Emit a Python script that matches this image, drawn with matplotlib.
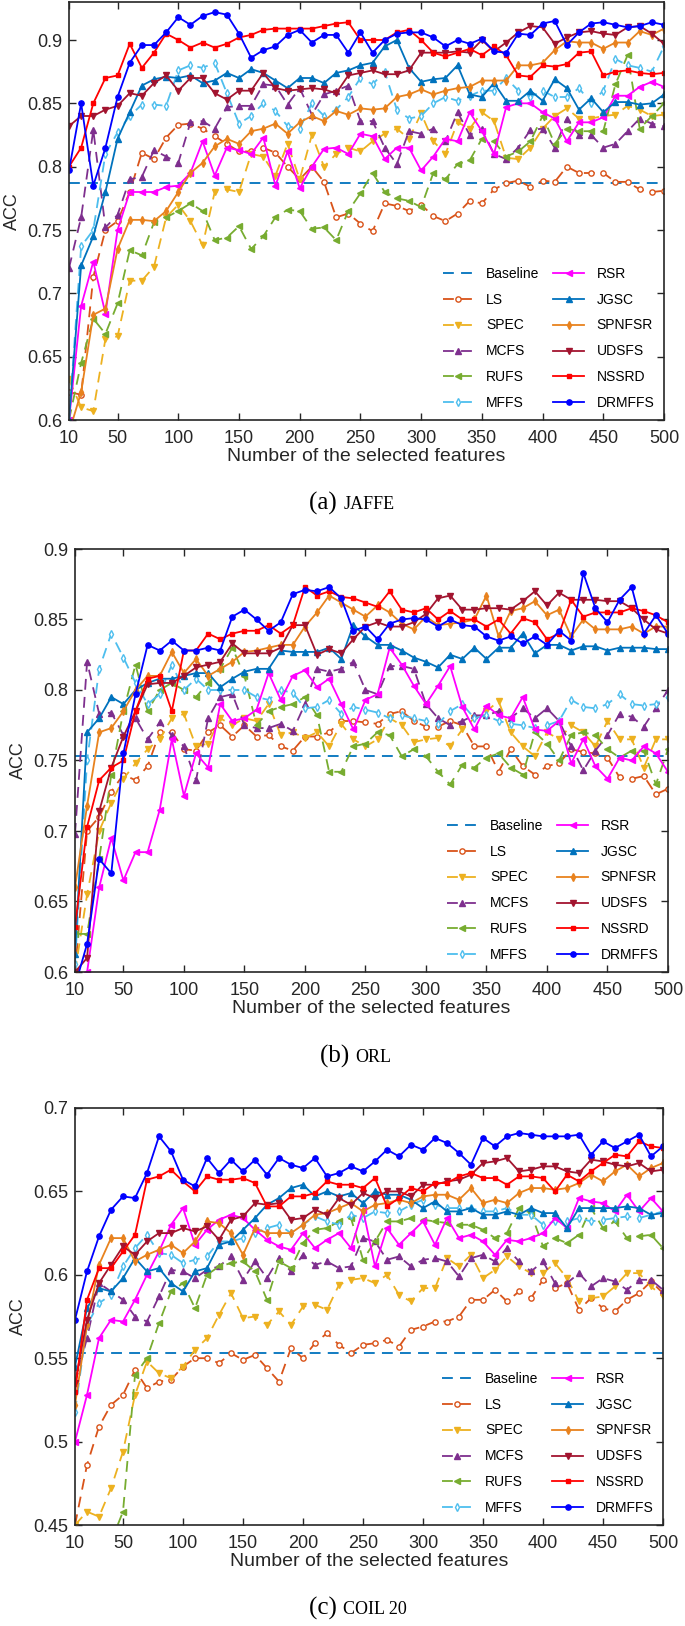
import matplotlib
matplotlib.use('Agg')
import matplotlib.pyplot as plt
from matplotlib.ticker import FuncFormatter
from matplotlib.offsetbox import TextArea, HPacker, AnnotationBbox

x = list(range(10, 510, 10))

# ---- (a) JAFFE ----
jaffe_baseline = 0.787
jaffe_ls = [0.622, 0.62, 0.713, 0.75, 0.757, 0.78, 0.811, 0.806, 0.823, 0.833, 0.834, 0.83, 0.824, 0.818, 0.812, 0.812, 0.815, 0.811, 0.8, 0.79, 0.8, 0.788, 0.76, 0.763, 0.755, 0.749, 0.771, 0.769, 0.765, 0.77, 0.761, 0.757, 0.763, 0.773, 0.771, 0.782, 0.787, 0.789, 0.784, 0.789, 0.788, 0.8, 0.795, 0.795, 0.795, 0.788, 0.788, 0.782, 0.78, 0.781]
jaffe_spec = [0.632, 0.61, 0.607, 0.664, 0.666, 0.71, 0.71, 0.721, 0.76, 0.77, 0.757, 0.738, 0.78, 0.782, 0.78, 0.81, 0.808, 0.793, 0.818, 0.79, 0.825, 0.8, 0.81, 0.815, 0.812, 0.82, 0.826, 0.83, 0.822, 0.842, 0.82, 0.81, 0.835, 0.83, 0.843, 0.836, 0.807, 0.806, 0.815, 0.83, 0.84, 0.846, 0.838, 0.838, 0.84, 0.841, 0.848, 0.845, 0.84, 0.841]
jaffe_mcfs = [0.72, 0.76, 0.829, 0.752, 0.762, 0.79, 0.792, 0.813, 0.808, 0.803, 0.835, 0.836, 0.83, 0.847, 0.848, 0.848, 0.865, 0.864, 0.849, 0.862, 0.841, 0.857, 0.86, 0.864, 0.836, 0.836, 0.815, 0.802, 0.828, 0.826, 0.83, 0.82, 0.843, 0.825, 0.83, 0.81, 0.806, 0.815, 0.829, 0.83, 0.815, 0.838, 0.825, 0.825, 0.815, 0.818, 0.828, 0.838, 0.834, 0.832]
jaffe_rufs = [0.6, 0.645, 0.68, 0.668, 0.692, 0.734, 0.73, 0.756, 0.76, 0.765, 0.771, 0.765, 0.742, 0.744, 0.753, 0.735, 0.745, 0.76, 0.766, 0.765, 0.751, 0.752, 0.742, 0.765, 0.779, 0.795, 0.78, 0.775, 0.773, 0.768, 0.795, 0.79, 0.802, 0.805, 0.822, 0.82, 0.808, 0.812, 0.82, 0.84, 0.818, 0.83, 0.828, 0.828, 0.828, 0.865, 0.888, 0.83, 0.84, 0.85]
jaffe_mffs = [0.6, 0.737, 0.75, 0.81, 0.827, 0.84, 0.849, 0.849, 0.848, 0.876, 0.88, 0.878, 0.882, 0.858, 0.834, 0.84, 0.85, 0.844, 0.832, 0.83, 0.85, 0.84, 0.845, 0.855, 0.87, 0.865, 0.875, 0.845, 0.838, 0.84, 0.85, 0.855, 0.852, 0.856, 0.86, 0.86, 0.87, 0.86, 0.855, 0.86, 0.855, 0.855, 0.862, 0.85, 0.86, 0.885, 0.88, 0.878, 0.875, 0.895]
jaffe_rsr = [0.6, 0.69, 0.725, 0.684, 0.75, 0.78, 0.78, 0.78, 0.784, 0.785, 0.795, 0.82, 0.793, 0.815, 0.813, 0.81, 0.823, 0.785, 0.812, 0.783, 0.8, 0.814, 0.815, 0.81, 0.826, 0.824, 0.806, 0.815, 0.815, 0.797, 0.808, 0.822, 0.82, 0.843, 0.828, 0.81, 0.847, 0.85, 0.85, 0.843, 0.838, 0.82, 0.835, 0.835, 0.839, 0.856, 0.856, 0.863, 0.867, 0.863]
jaffe_jgsc = [0.6, 0.722, 0.745, 0.78, 0.822, 0.843, 0.864, 0.869, 0.871, 0.87, 0.872, 0.866, 0.868, 0.874, 0.87, 0.877, 0.874, 0.868, 0.862, 0.87, 0.87, 0.866, 0.874, 0.876, 0.88, 0.882, 0.895, 0.9, 0.878, 0.867, 0.869, 0.87, 0.88, 0.857, 0.855, 0.866, 0.852, 0.852, 0.86, 0.852, 0.869, 0.862, 0.845, 0.854, 0.843, 0.851, 0.851, 0.849, 0.85, 0.857]
jaffe_spnfsr = [0.59, 0.622, 0.683, 0.688, 0.735, 0.758, 0.758, 0.757, 0.765, 0.78, 0.795, 0.803, 0.816, 0.822, 0.818, 0.828, 0.83, 0.834, 0.826, 0.835, 0.84, 0.836, 0.844, 0.841, 0.846, 0.845, 0.846, 0.855, 0.857, 0.861, 0.857, 0.86, 0.862, 0.863, 0.868, 0.868, 0.868, 0.88, 0.88, 0.882, 0.892, 0.899, 0.898, 0.898, 0.893, 0.898, 0.898, 0.907, 0.904, 0.909]
jaffe_udsfs = [0.832, 0.84, 0.84, 0.845, 0.848, 0.858, 0.856, 0.866, 0.872, 0.86, 0.87, 0.87, 0.858, 0.853, 0.86, 0.86, 0.874, 0.862, 0.86, 0.861, 0.862, 0.861, 0.858, 0.872, 0.874, 0.876, 0.873, 0.873, 0.876, 0.89, 0.89, 0.89, 0.891, 0.89, 0.9, 0.891, 0.898, 0.906, 0.911, 0.91, 0.897, 0.902, 0.906, 0.907, 0.905, 0.904, 0.91, 0.911, 0.905, 0.897]
jaffe_nssrd = [0.8, 0.815, 0.85, 0.87, 0.872, 0.897, 0.878, 0.89, 0.905, 0.9, 0.894, 0.898, 0.894, 0.897, 0.902, 0.904, 0.908, 0.909, 0.909, 0.909, 0.909, 0.911, 0.913, 0.914, 0.9, 0.9, 0.9, 0.906, 0.908, 0.9, 0.89, 0.887, 0.89, 0.893, 0.888, 0.895, 0.888, 0.872, 0.871, 0.88, 0.879, 0.881, 0.89, 0.891, 0.872, 0.875, 0.876, 0.874, 0.873, 0.874]
jaffe_drmffs = [0.797, 0.85, 0.785, 0.815, 0.855, 0.882, 0.896, 0.896, 0.906, 0.918, 0.912, 0.919, 0.922, 0.92, 0.905, 0.886, 0.892, 0.895, 0.904, 0.908, 0.898, 0.904, 0.904, 0.89, 0.906, 0.89, 0.9, 0.905, 0.906, 0.906, 0.902, 0.895, 0.9, 0.897, 0.901, 0.891, 0.89, 0.905, 0.904, 0.913, 0.915, 0.896, 0.906, 0.913, 0.914, 0.912, 0.91, 0.911, 0.914, 0.912]

# ---- (b) ORL ----
orl_baseline = 0.753
orl_ls = [0.6, 0.7, 0.71, 0.728, 0.74, 0.736, 0.746, 0.77, 0.77, 0.758, 0.757, 0.77, 0.775, 0.767, 0.775, 0.767, 0.768, 0.76, 0.757, 0.767, 0.767, 0.77, 0.778, 0.778, 0.777, 0.776, 0.783, 0.785, 0.778, 0.774, 0.774, 0.778, 0.775, 0.76, 0.76, 0.742, 0.758, 0.746, 0.74, 0.746, 0.748, 0.758, 0.756, 0.755, 0.752, 0.738, 0.737, 0.739, 0.726, 0.73]
orl_spec = [0.6, 0.655, 0.7, 0.72, 0.737, 0.748, 0.758, 0.765, 0.78, 0.783, 0.76, 0.762, 0.78, 0.775, 0.78, 0.778, 0.79, 0.768, 0.77, 0.766, 0.77, 0.76, 0.776, 0.765, 0.76, 0.765, 0.78, 0.775, 0.763, 0.765, 0.766, 0.76, 0.772, 0.78, 0.785, 0.792, 0.77, 0.76, 0.753, 0.77, 0.765, 0.775, 0.77, 0.76, 0.778, 0.765, 0.765, 0.745, 0.765, 0.765]
orl_mcfs = [0.698, 0.82, 0.783, 0.784, 0.768, 0.78, 0.765, 0.777, 0.768, 0.76, 0.736, 0.78, 0.795, 0.797, 0.775, 0.773, 0.773, 0.776, 0.771, 0.79, 0.815, 0.813, 0.815, 0.82, 0.8, 0.797, 0.817, 0.817, 0.815, 0.79, 0.78, 0.775, 0.778, 0.782, 0.782, 0.785, 0.78, 0.787, 0.78, 0.787, 0.778, 0.76, 0.743, 0.757, 0.768, 0.783, 0.781, 0.774, 0.787, 0.8]
orl_rufs = [0.627, 0.627, 0.68, 0.74, 0.785, 0.818, 0.785, 0.8, 0.805, 0.8, 0.795, 0.805, 0.815, 0.83, 0.81, 0.775, 0.785, 0.788, 0.79, 0.795, 0.782, 0.742, 0.742, 0.76, 0.762, 0.77, 0.768, 0.753, 0.758, 0.753, 0.742, 0.733, 0.747, 0.745, 0.752, 0.755, 0.745, 0.74, 0.77, 0.762, 0.75, 0.768, 0.77, 0.768, 0.758, 0.752, 0.757, 0.757, 0.733, 0.758]
orl_mffs = [0.606, 0.75, 0.815, 0.84, 0.823, 0.805, 0.79, 0.797, 0.818, 0.8, 0.808, 0.8, 0.8, 0.8, 0.8, 0.795, 0.793, 0.8, 0.798, 0.787, 0.788, 0.793, 0.783, 0.788, 0.786, 0.784, 0.78, 0.782, 0.78, 0.778, 0.776, 0.785, 0.79, 0.78, 0.782, 0.778, 0.776, 0.775, 0.773, 0.775, 0.778, 0.793, 0.788, 0.787, 0.79, 0.797, 0.79, 0.789, 0.79, 0.795]
orl_rsr = [0.58, 0.6, 0.66, 0.695, 0.665, 0.685, 0.685, 0.715, 0.765, 0.725, 0.755, 0.745, 0.79, 0.778, 0.78, 0.786, 0.812, 0.793, 0.81, 0.814, 0.802, 0.808, 0.79, 0.772, 0.793, 0.797, 0.83, 0.818, 0.803, 0.79, 0.803, 0.817, 0.788, 0.772, 0.789, 0.782, 0.78, 0.795, 0.772, 0.771, 0.778, 0.748, 0.765, 0.746, 0.737, 0.752, 0.75, 0.76, 0.755, 0.742]
orl_jgsc = [0.613, 0.77, 0.78, 0.795, 0.79, 0.8, 0.805, 0.808, 0.808, 0.81, 0.812, 0.812, 0.802, 0.808, 0.813, 0.815, 0.815, 0.828, 0.827, 0.827, 0.827, 0.83, 0.822, 0.846, 0.838, 0.832, 0.832, 0.828, 0.823, 0.82, 0.816, 0.825, 0.822, 0.83, 0.822, 0.83, 0.83, 0.84, 0.826, 0.832, 0.832, 0.828, 0.831, 0.831, 0.828, 0.83, 0.83, 0.83, 0.829, 0.829]
orl_spnfsr = [0.66, 0.718, 0.77, 0.773, 0.785, 0.8, 0.81, 0.81, 0.827, 0.812, 0.822, 0.81, 0.815, 0.82, 0.827, 0.828, 0.83, 0.832, 0.832, 0.845, 0.855, 0.867, 0.862, 0.857, 0.852, 0.86, 0.855, 0.847, 0.843, 0.852, 0.846, 0.847, 0.848, 0.85, 0.867, 0.838, 0.856, 0.858, 0.863, 0.853, 0.857, 0.838, 0.85, 0.843, 0.843, 0.843, 0.845, 0.84, 0.845, 0.845]
orl_udsfs = [0.6, 0.61, 0.714, 0.745, 0.767, 0.785, 0.804, 0.805, 0.805, 0.81, 0.816, 0.818, 0.82, 0.833, 0.826, 0.826, 0.826, 0.83, 0.846, 0.846, 0.825, 0.829, 0.826, 0.836, 0.845, 0.848, 0.845, 0.845, 0.848, 0.854, 0.865, 0.867, 0.857, 0.857, 0.858, 0.858, 0.857, 0.863, 0.87, 0.86, 0.869, 0.864, 0.864, 0.864, 0.863, 0.863, 0.858, 0.85, 0.843, 0.84]
orl_nssrd = [0.632, 0.703, 0.736, 0.745, 0.75, 0.785, 0.808, 0.81, 0.785, 0.828, 0.828, 0.84, 0.836, 0.84, 0.842, 0.842, 0.846, 0.84, 0.846, 0.873, 0.867, 0.87, 0.866, 0.865, 0.862, 0.859, 0.87, 0.857, 0.855, 0.858, 0.85, 0.856, 0.85, 0.85, 0.845, 0.85, 0.84, 0.851, 0.848, 0.836, 0.84, 0.864, 0.852, 0.855, 0.855, 0.855, 0.858, 0.856, 0.853, 0.848]
orl_drmffs = [0.59, 0.62, 0.68, 0.67, 0.755, 0.797, 0.832, 0.828, 0.835, 0.828, 0.828, 0.83, 0.828, 0.852, 0.857, 0.85, 0.842, 0.848, 0.868, 0.871, 0.87, 0.873, 0.865, 0.842, 0.845, 0.836, 0.847, 0.85, 0.851, 0.85, 0.845, 0.85, 0.846, 0.845, 0.838, 0.835, 0.838, 0.833, 0.838, 0.832, 0.842, 0.835, 0.883, 0.858, 0.848, 0.864, 0.873, 0.84, 0.853, 0.84]

# ---- (c) COIL 20 ----
coil_baseline = 0.553
coil_ls = [0.45, 0.486, 0.509, 0.522, 0.528, 0.543, 0.532, 0.536, 0.537, 0.545, 0.55, 0.55, 0.547, 0.553, 0.549, 0.552, 0.544, 0.536, 0.556, 0.55, 0.559, 0.565, 0.558, 0.553, 0.558, 0.559, 0.561, 0.557, 0.567, 0.569, 0.572, 0.572, 0.575, 0.585, 0.585, 0.591, 0.584, 0.59, 0.586, 0.597, 0.592, 0.595, 0.579, 0.586, 0.58, 0.578, 0.585, 0.589, 0.596, 0.589]
coil_spec = [0.45, 0.458, 0.455, 0.472, 0.494, 0.528, 0.548, 0.541, 0.538, 0.545, 0.555, 0.562, 0.576, 0.589, 0.574, 0.575, 0.57, 0.578, 0.57, 0.581, 0.582, 0.579, 0.594, 0.597, 0.598, 0.595, 0.6, 0.588, 0.584, 0.592, 0.592, 0.61, 0.605, 0.612, 0.598, 0.603, 0.611, 0.605, 0.601, 0.601, 0.607, 0.598, 0.584, 0.586, 0.587, 0.593, 0.601, 0.601, 0.593, 0.587]
coil_mcfs = [0.535, 0.562, 0.595, 0.59, 0.585, 0.575, 0.572, 0.587, 0.603, 0.602, 0.598, 0.603, 0.605, 0.611, 0.597, 0.608, 0.598, 0.61, 0.602, 0.612, 0.606, 0.608, 0.604, 0.605, 0.622, 0.62, 0.609, 0.611, 0.605, 0.609, 0.61, 0.608, 0.599, 0.61, 0.612, 0.608, 0.616, 0.608, 0.602, 0.608, 0.595, 0.595, 0.601, 0.593, 0.598, 0.596, 0.591, 0.597, 0.597, 0.591]
coil_rufs = [0.44, 0.44, 0.44, 0.44, 0.458, 0.54, 0.55, 0.571, 0.59, 0.595, 0.58, 0.6, 0.605, 0.607, 0.608, 0.602, 0.585, 0.608, 0.604, 0.619, 0.627, 0.628, 0.632, 0.634, 0.609, 0.62, 0.632, 0.632, 0.634, 0.633, 0.632, 0.631, 0.63, 0.63, 0.627, 0.622, 0.625, 0.64, 0.637, 0.617, 0.622, 0.619, 0.624, 0.64, 0.628, 0.632, 0.622, 0.623, 0.624, 0.616]
coil_mffs = [0.518, 0.57, 0.583, 0.588, 0.605, 0.616, 0.624, 0.613, 0.612, 0.607, 0.609, 0.611, 0.62, 0.62, 0.622, 0.625, 0.628, 0.63, 0.625, 0.63, 0.635, 0.632, 0.63, 0.636, 0.634, 0.638, 0.637, 0.638, 0.642, 0.645, 0.642, 0.64, 0.64, 0.64, 0.638, 0.638, 0.64, 0.636, 0.636, 0.63, 0.632, 0.632, 0.634, 0.632, 0.633, 0.634, 0.635, 0.634, 0.636, 0.638]
coil_rsr = [0.5, 0.528, 0.562, 0.573, 0.572, 0.585, 0.6, 0.614, 0.63, 0.64, 0.618, 0.627, 0.633, 0.636, 0.634, 0.627, 0.621, 0.617, 0.615, 0.625, 0.616, 0.621, 0.625, 0.616, 0.639, 0.605, 0.628, 0.618, 0.625, 0.632, 0.618, 0.634, 0.622, 0.624, 0.62, 0.612, 0.621, 0.62, 0.622, 0.625, 0.634, 0.628, 0.646, 0.644, 0.643, 0.638, 0.648, 0.638, 0.646, 0.638]
coil_jgsc = [0.545, 0.58, 0.592, 0.59, 0.598, 0.61, 0.602, 0.604, 0.595, 0.59, 0.602, 0.604, 0.618, 0.62, 0.627, 0.634, 0.642, 0.646, 0.652, 0.654, 0.647, 0.65, 0.647, 0.649, 0.643, 0.65, 0.648, 0.648, 0.645, 0.64, 0.644, 0.638, 0.638, 0.64, 0.636, 0.636, 0.638, 0.636, 0.64, 0.637, 0.637, 0.628, 0.64, 0.64, 0.64, 0.64, 0.641, 0.64, 0.636, 0.637]
coil_spnfsr = [0.522, 0.57, 0.606, 0.622, 0.622, 0.608, 0.612, 0.615, 0.618, 0.613, 0.62, 0.632, 0.631, 0.625, 0.612, 0.628, 0.625, 0.625, 0.625, 0.63, 0.636, 0.637, 0.64, 0.643, 0.638, 0.642, 0.643, 0.645, 0.643, 0.647, 0.648, 0.648, 0.645, 0.652, 0.643, 0.645, 0.643, 0.649, 0.652, 0.652, 0.651, 0.652, 0.655, 0.66, 0.656, 0.662, 0.666, 0.659, 0.664, 0.667]
coil_udsfs = [0.535, 0.573, 0.595, 0.606, 0.617, 0.612, 0.62, 0.625, 0.625, 0.628, 0.626, 0.629, 0.621, 0.633, 0.635, 0.643, 0.642, 0.643, 0.633, 0.634, 0.639, 0.636, 0.646, 0.642, 0.649, 0.646, 0.65, 0.65, 0.647, 0.654, 0.654, 0.656, 0.657, 0.66, 0.667, 0.668, 0.67, 0.662, 0.663, 0.665, 0.665, 0.662, 0.661, 0.669, 0.668, 0.666, 0.665, 0.667, 0.662, 0.663]
coil_nssrd = [0.53, 0.585, 0.604, 0.604, 0.614, 0.624, 0.657, 0.659, 0.663, 0.656, 0.65, 0.659, 0.657, 0.657, 0.658, 0.655, 0.641, 0.641, 0.647, 0.647, 0.649, 0.656, 0.654, 0.654, 0.652, 0.658, 0.641, 0.646, 0.652, 0.65, 0.655, 0.655, 0.659, 0.661, 0.658, 0.658, 0.654, 0.659, 0.659, 0.658, 0.65, 0.66, 0.656, 0.662, 0.667, 0.672, 0.671, 0.68, 0.677, 0.676]
coil_drmffs = [0.573, 0.602, 0.623, 0.639, 0.647, 0.646, 0.661, 0.683, 0.674, 0.657, 0.653, 0.67, 0.661, 0.669, 0.662, 0.669, 0.66, 0.67, 0.666, 0.664, 0.67, 0.659, 0.661, 0.665, 0.662, 0.668, 0.675, 0.671, 0.678, 0.675, 0.682, 0.679, 0.673, 0.666, 0.682, 0.677, 0.683, 0.685, 0.684, 0.683, 0.683, 0.683, 0.684, 0.672, 0.68, 0.676, 0.68, 0.684, 0.671, 0.677]

names = ['LS', 'SPEC', 'MCFS', 'RUFS', 'MFFS', 'RSR', 'JGSC', 'SPNFSR', 'UDSFS', 'NSSRD', 'DRMFFS']

# стиль линий: цвет, маркер, тип линии, заливка маркера, размер маркера
styles = {
    'LS':     ('#D95319', 'o', '--', 'white', 3.8),
    'SPEC':   ('#EDB120', 'v', '--', None, 3.8),
    'MCFS':   ('#7E2F8E', '^', '--', None, 3.8),
    'RUFS':   ('#77AC30', '<', '--', None, 3.8),
    'MFFS':   ('#4DBEEE', 'd', '--', 'white', 3.8),
    'RSR':    ('#FF00FF', '<', '-', None, 3.8),
    'JGSC':   ('#0072BD', '^', '-', None, 3.8),
    'SPNFSR': ('#E8821E', 'd', '-', None, 3.8),
    'UDSFS':  ('#A2142F', 'v', '-', None, 3.8),
    'NSSRD':  ('#FF0000', 's', '-', None, 2.6),
    'DRMFFS': ('#0000FF', 'o', '-', None, 3.8),
}

panels = [
    ('(a) ', 'JAFFE', jaffe_baseline,
     [jaffe_ls, jaffe_spec, jaffe_mcfs, jaffe_rufs, jaffe_mffs, jaffe_rsr,
      jaffe_jgsc, jaffe_spnfsr, jaffe_udsfs, jaffe_nssrd, jaffe_drmffs],
     (0.6, 0.93), [0.6, 0.65, 0.7, 0.75, 0.8, 0.85, 0.9],
     (69, 2, 664, 420), (352, 503)),
    ('(b) ', 'ORL', orl_baseline,
     [orl_ls, orl_spec, orl_mcfs, orl_rufs, orl_mffs, orl_rsr,
      orl_jgsc, orl_spnfsr, orl_udsfs, orl_nssrd, orl_drmffs],
     (0.6, 0.9), [0.6, 0.65, 0.7, 0.75, 0.8, 0.85, 0.9],
     (75, 549, 668, 972), (356, 1056)),
    ('(c) ', 'COIL 20', coil_baseline,
     [coil_ls, coil_spec, coil_mcfs, coil_rufs, coil_mffs, coil_rsr,
      coil_jgsc, coil_spnfsr, coil_udsfs, coil_nssrd, coil_drmffs],
     (0.45, 0.7), [0.45, 0.5, 0.55, 0.6, 0.65, 0.7],
     (75, 1108, 663, 1525), (358, 1608)),
]

W, H = 685, 1626
fig = plt.figure(figsize=(W / 100, H / 100), dpi=100)
plt.rcParams['font.family'] = ['Liberation Sans', 'DejaVu Sans']

xticks = [10, 50, 100, 150, 200, 250, 300, 350, 400, 450, 500]

for tag, dataset, base, series, ylim, yticks, (l, t, r, b), (cx, cy) in panels:
    ax = fig.add_axes([l / W, 1 - b / H, (r - l) / W, (b - t) / H])

    handles = []
    h, = ax.plot(x, [base] * len(x), '--', color='#0072BD', lw=1.3,
                 dashes=(6, 4), label='Baseline')
    handles.append(h)
    for name, y in zip(names, series):
        color, marker, ls, mfc, ms = styles[name]
        kw = dict(color=color, marker=marker, linestyle=ls, lw=1.3,
                  markersize=ms, label=name)
        if ls == '--':
            kw['dashes'] = (6, 4)
        if mfc:
            kw['markerfacecolor'] = mfc
        h, = ax.plot(x, y, **kw)
        handles.append(h)

    ax.set_xlim(10, 500)
    ax.set_ylim(*ylim)
    ax.set_xticks(xticks)
    ax.set_yticks(yticks)
    ax.yaxis.set_major_formatter(FuncFormatter(lambda v, _: f'{v:g}'))
    ax.tick_params(direction='in', top=True, right=True, length=5,
                   width=1, labelsize=13, colors='#262626')
    ax.tick_params(axis='x', pad=7)
    ax.tick_params(axis='y', pad=5)
    for sp in ax.spines.values():
        sp.set_linewidth(1.2)
        sp.set_color('#262626')
    ax.set_xlabel('Number of the selected features', fontsize=14,
                  color='#262626', labelpad=1)
    ax.set_ylabel('ACC', fontsize=13, color='#262626', labelpad=4.5)

    ax.legend(handles=handles, ncol=2, loc='lower right', frameon=False,
              fontsize=10, handlelength=2.2, handletextpad=0.9,
              columnspacing=1.0, labelspacing=0.86,
              borderaxespad=0.3)

    # подпись панели: "(a)" крупно, название набора мелкими капителями
    t1 = TextArea(tag, textprops=dict(family='Liberation Serif', size=18))
    t2 = TextArea(dataset, textprops=dict(family='Liberation Serif', size=13))
    box = HPacker(children=[t1, t2], align='baseline', pad=0, sep=0)
    ab = AnnotationBbox(box, (cx / W, 1 - cy / H), xycoords='figure fraction',
                        frameon=False, box_alignment=(0.5, 0.5))
    fig.add_artist(ab)

fig.savefig('out.png', dpi=100)
